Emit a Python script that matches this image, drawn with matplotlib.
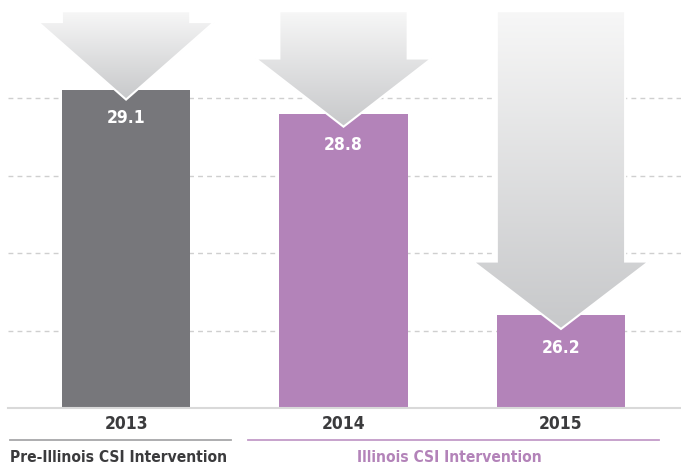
import matplotlib
matplotlib.use("Agg")
import matplotlib.pyplot as plt
import numpy as np
from matplotlib.patches import Polygon
from matplotlib.colors import LinearSegmentedColormap

years = ["2013", "2014", "2015"]
values = [29.1, 28.8, 26.2]
bar_colors = ["#77777b", "#b383b9", "#b383b9"]
# where each decorative arrow ends (tip) and where its head starts
arrow_tips = [28.98, 28.63, 26.02]
arrow_heads = [29.98, 29.51, 26.89]
arrow_top = 30.12
groups = ["Pre-Illinois CSI Intervention", "Illinois CSI Intervention"]

plt.rcParams['font.family'] = ['DejaVu Sans']
plt.rcParams['font.stretch'] = 'condensed'

fig = plt.figure(figsize=(6.81, 4.66), dpi=100)
ax = fig.add_axes([8 / 681, 58 / 466, 673 / 681, 408 / 466])
ax.set_xlim(-0.543, 2.552)
ax.set_ylim(25, 30.265)

for g in [26, 27, 28, 29]:
    ax.axhline(g, color="#cfcfcf", lw=1, ls=(0, (3.5, 3)), zorder=1)

x = np.arange(len(years))
bar_w = 0.59
head_w = 0.81
ax.bar(x, [v - 25 for v in values], bottom=25, width=bar_w, color=bar_colors, zorder=2)

cmap = LinearSegmentedColormap.from_list("arr", ["#f7f7f7", "#c7c8ca"])
grad = np.linspace(0, 1, 256).reshape(-1, 1)
for xi, tip, head in zip(x, arrow_tips, arrow_heads):
    pts = [(xi - bar_w / 2, arrow_top), (xi + bar_w / 2, arrow_top),
           (xi + bar_w / 2, head), (xi + head_w / 2, head),
           (xi, tip), (xi - head_w / 2, head), (xi - bar_w / 2, head)]
    poly = Polygon(pts, closed=True, facecolor="none", edgecolor="white", lw=1.5, zorder=4)
    ax.add_patch(poly)
    im = ax.imshow(grad, cmap=cmap, aspect="auto", origin="upper", zorder=3,
                   extent=(xi - head_w / 2, xi + head_w / 2, tip, arrow_top))
    im.set_clip_path(poly)

for xi, tip, v in zip(x, arrow_tips, values):
    ax.text(xi, tip - 0.24, f"{v:.1f}", ha="center", va="center", color="white",
            fontsize=12.5, fontweight="bold", zorder=5)

ax.set_xticks([])
ax.set_yticks([])
for s in ["left", "right", "top"]:
    ax.spines[s].set_visible(False)
ax.spines["bottom"].set_color("#d9d9d9")
ax.spines["bottom"].set_linewidth(1.5)

for xi, yr in zip(x, years):
    ax.annotate(yr, (xi, 0), xycoords=("data", "axes fraction"), xytext=(0, -16),
                textcoords="offset pixels", ha="center", va="center",
                fontsize=12.5, fontweight="bold", color="#3b3b3d", annotation_clip=False)

fig.add_artist(plt.Line2D([10 / 681, 231 / 681], [26 / 466, 26 / 466], color="#a7a7a9", lw=1.3))
fig.add_artist(plt.Line2D([248 / 681, 659 / 681], [26 / 466, 26 / 466], color="#c39bc8", lw=1.3))
fig.text(119 / 681, 8 / 466, groups[0], ha="center", va="center", fontsize=11.2,
         fontweight="bold", color="#3b3b3d")
fig.text(449 / 681, 8 / 466, groups[1], ha="center", va="center", fontsize=11.2,
         fontweight="bold", color="#b383b9")

fig.savefig("out.png", dpi=100)
